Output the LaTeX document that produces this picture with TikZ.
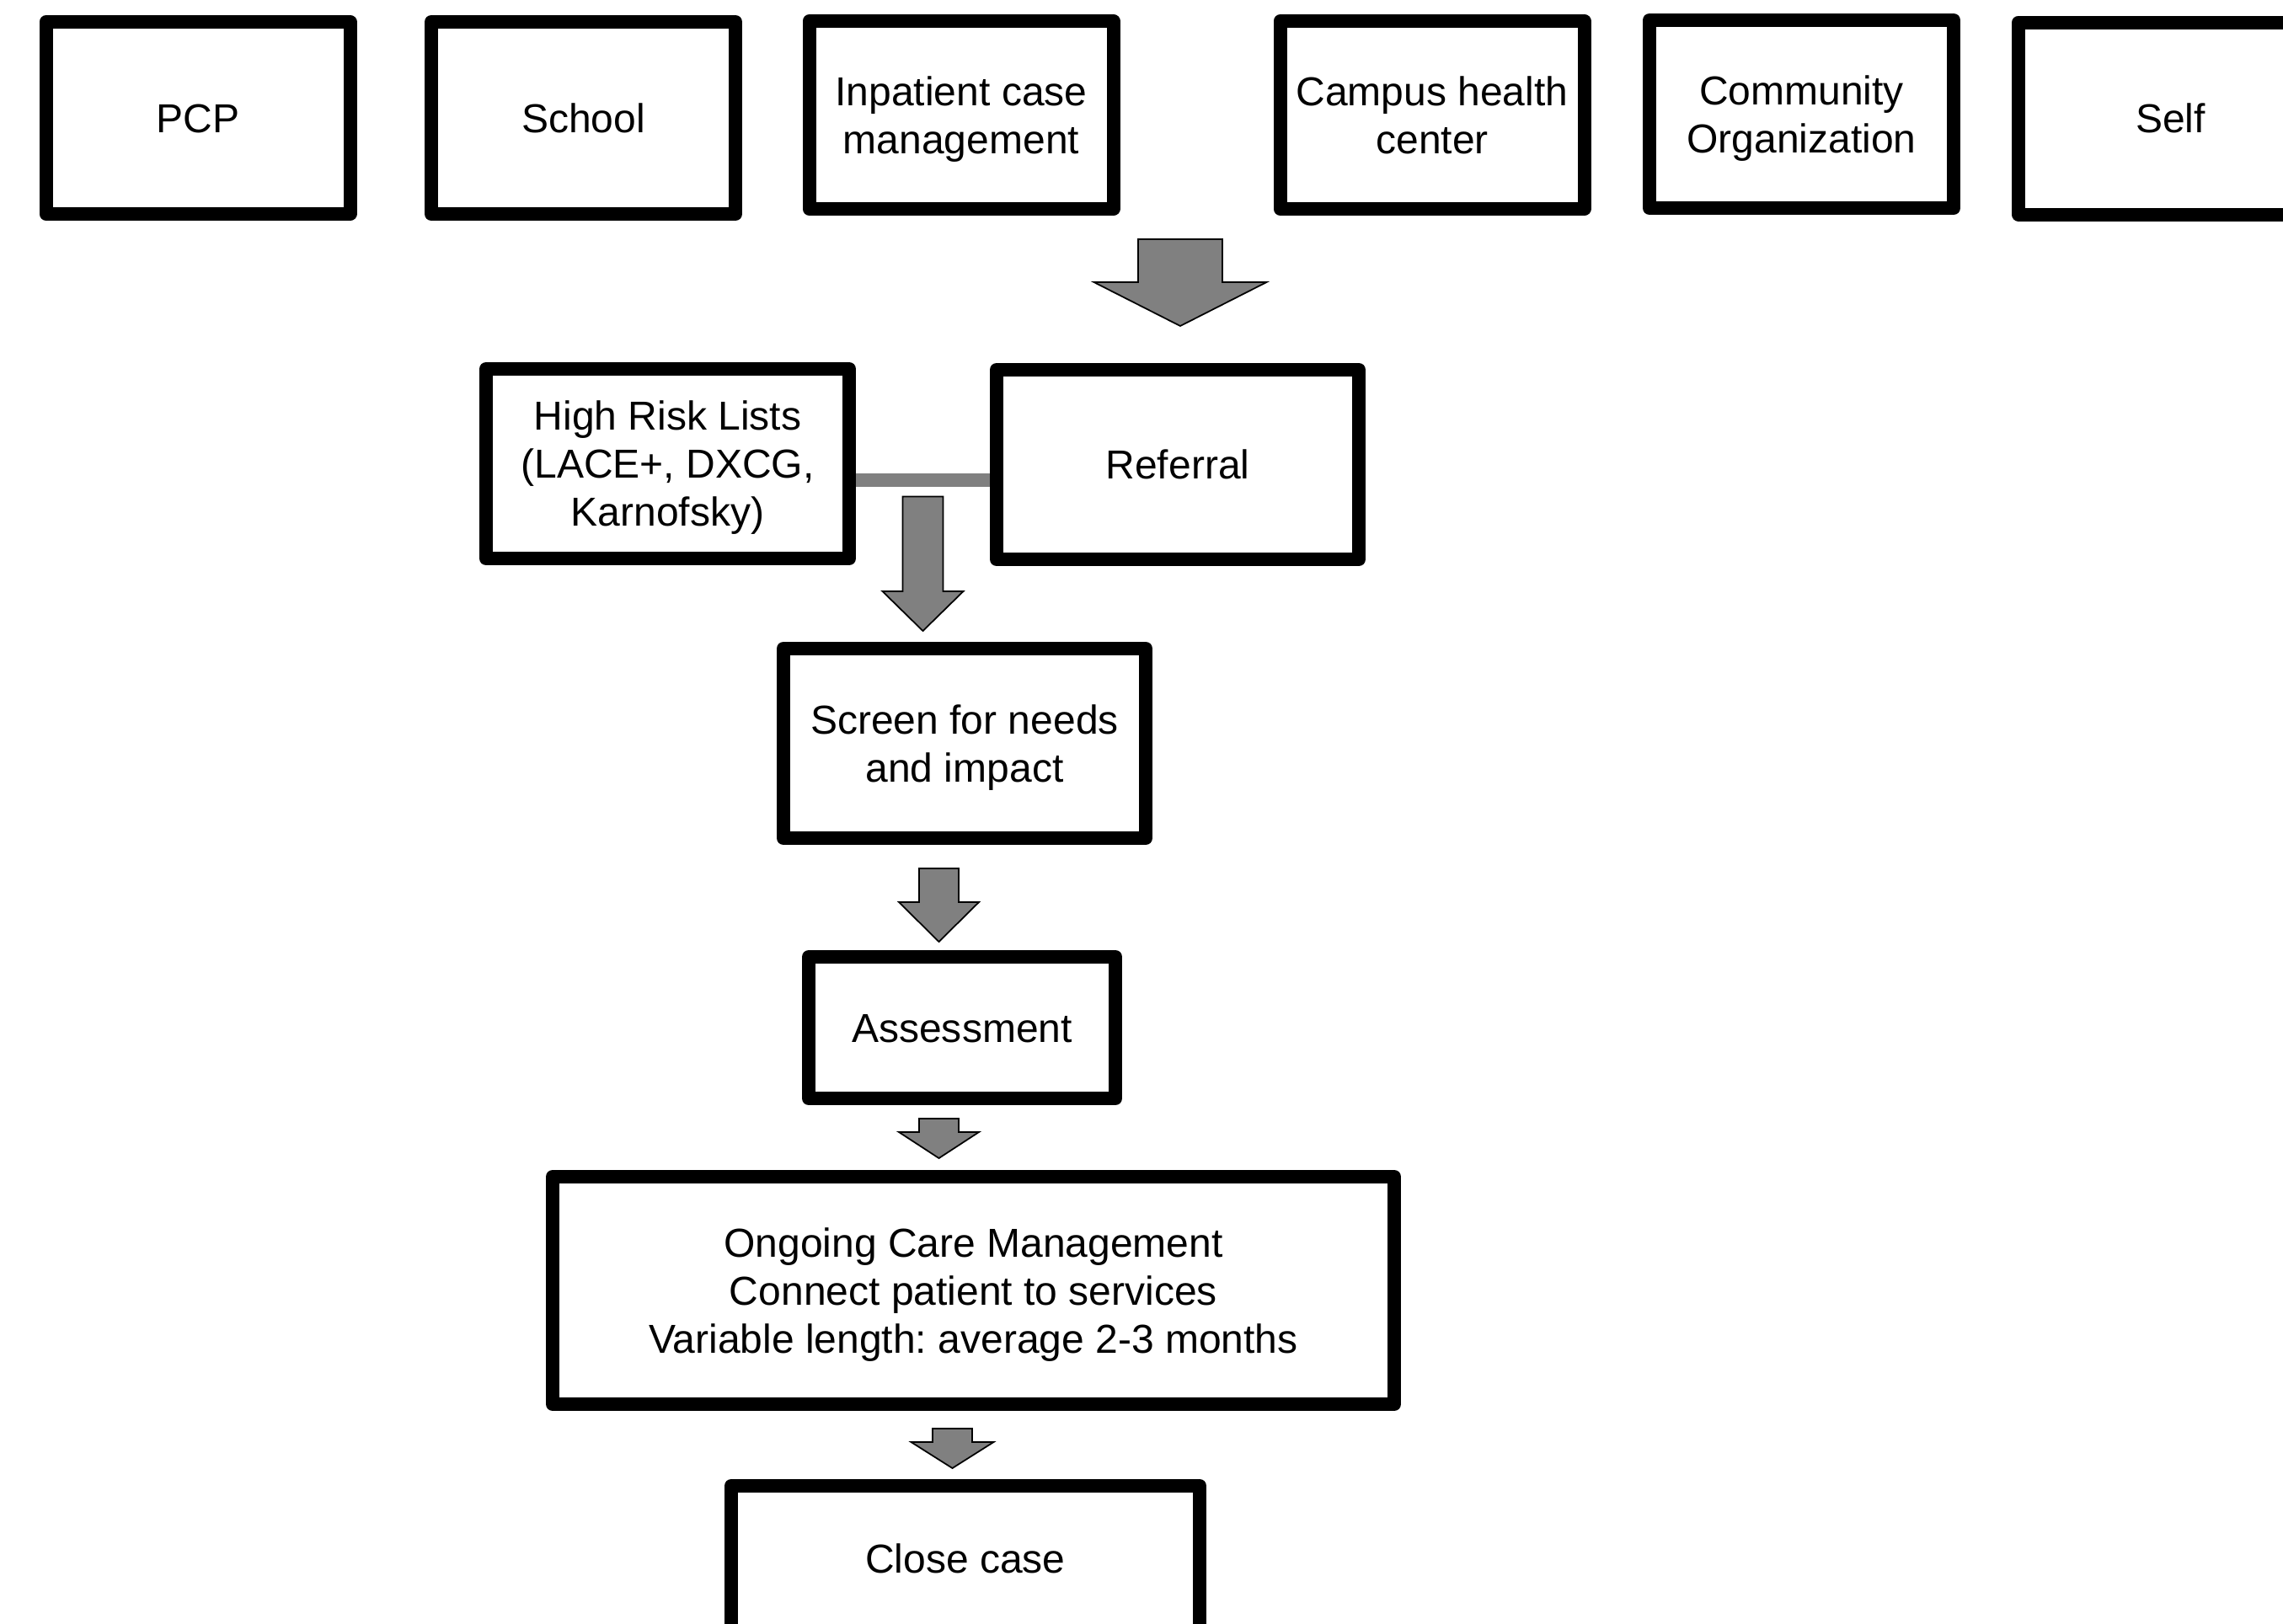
\documentclass[tikz,border=0pt]{standalone}
\usepackage{fontspec}
\setmainfont{Liberation Sans}
\usetikzlibrary{calc}
\frenchspacing

\definecolor{arrowgray}{RGB}{128,128,128}

% struts so the lines sit as in the slide
\newcommand{\topstrut}{\rule{0pt}{12.6pt}}
\newcommand{\botstrut}{\rule[-2.9pt]{0pt}{2.9pt}}

% block arrow: start, tip, shaft half width, head half width, head length
\newcommand{\blockarrow}[5]{%
  \filldraw[flowarrow] let \p1=(#1), \p2=(#2) in
    (\x1-#3,\y1) -- (\x1+#3,\y1) -- (\x1+#3,\y2+#5) -- (\x1+#4,\y2+#5)
    -- (\x1,\y2) -- (\x1-#4,\y2+#5) -- (\x1-#3,\y2+#5) -- cycle;}

\begin{document}
\begin{tikzpicture}[
  flowbox/.style={draw, line width=0.16cm, line join=round, align=center,
    inner sep=0pt, font=\fontsize{13.66pt}{16.2pt}\selectfont},
  flowarrow/.style={fill=arrowgray, draw=black, line width=0.5pt},
  riskbar/.style={draw=arrowgray, line width=0.16cm}]
\useasboundingbox (0,0) rectangle (27.10,-19.28);
\clip (0,0) rectangle (27.10,-19.28);

% referral sources
\foreach \cx/\cy/\hh/\nm/\txt in {2.35/-1.40/2.28/pcp/PCP,
    6.925/-1.40/2.28/school/School,
    11.41/-1.365/2.23/inpat/{Inpatient case\\management},
    17.00/-1.365/2.23/campus/{Campus health\\center},
    21.385/-1.355/2.23/commorg/{Community\\Organization},
    25.765/-1.405/2.28/self/Self}
{
    \node[flowbox, minimum width=3.61cm, minimum height=\hh cm] (\nm) at (\cx,\cy) {\topstrut\txt\botstrut};
}

\node[flowbox, minimum width=4.31cm, minimum height=2.25cm] (hrl) at (7.925,-5.505) {\topstrut High Risk Lists\\(LACE+, DXCG,\\Karnofsky)\botstrut};
\node[flowbox, minimum width=4.30cm, minimum height=2.25cm] (ref) at (13.98,-5.515) {\topstrut Referral\botstrut};
\node[flowbox, minimum width=4.30cm, minimum height=2.25cm] (scr) at (11.45,-8.825) {\topstrut Screen for needs\\and impact\botstrut};
\node[flowbox, minimum width=3.64cm, minimum height=1.68cm] (asm) at (11.42,-12.20) {\topstrut Assessment\botstrut};
\node[flowbox, minimum width=9.99cm, minimum height=2.70cm] (ong) at (11.555,-15.32) {\topstrut Ongoing Care Management\\Connect patient to services\\Variable length: average 2-3 months\botstrut};
\node[flowbox, minimum width=5.56cm, minimum height=1.72cm] (cls) at (11.46,-18.50) {\topstrut Close case\botstrut};

% link between lists and referral
\draw[riskbar] ([yshift=-0.19cm]hrl.east) coordinate (barl) -- (barl -| ref.west);
\coordinate (barmid) at ($(barl)!0.5!(barl -| ref.west)$);

% block arrows
\blockarrow{$(ref.north)+(0.03,1.47)$}{$(ref.north)+(0,0.44)$}{0.50cm}{1.025cm}{0.52cm}
\blockarrow{$(barmid)+(0,-0.2)$}{$(barmid |- scr.north)+(0,0.13)$}{0.24cm}{0.48cm}{0.47cm}
\blockarrow{$(scr.south)+(-0.305,-0.28)$}{$(asm.north)+(0,0.10)$}{0.235cm}{0.475cm}{0.47cm}
\blockarrow{$(asm.south)+(-0.275,-0.16)$}{$(ong.north)+(0,0.14)$}{0.235cm}{0.475cm}{0.31cm}
\blockarrow{$(ong.south)+(-0.25,-0.21)$}{$(cls.north)+(0,0.13)$}{0.235cm}{0.49cm}{0.31cm}
\end{tikzpicture}
\end{document}
